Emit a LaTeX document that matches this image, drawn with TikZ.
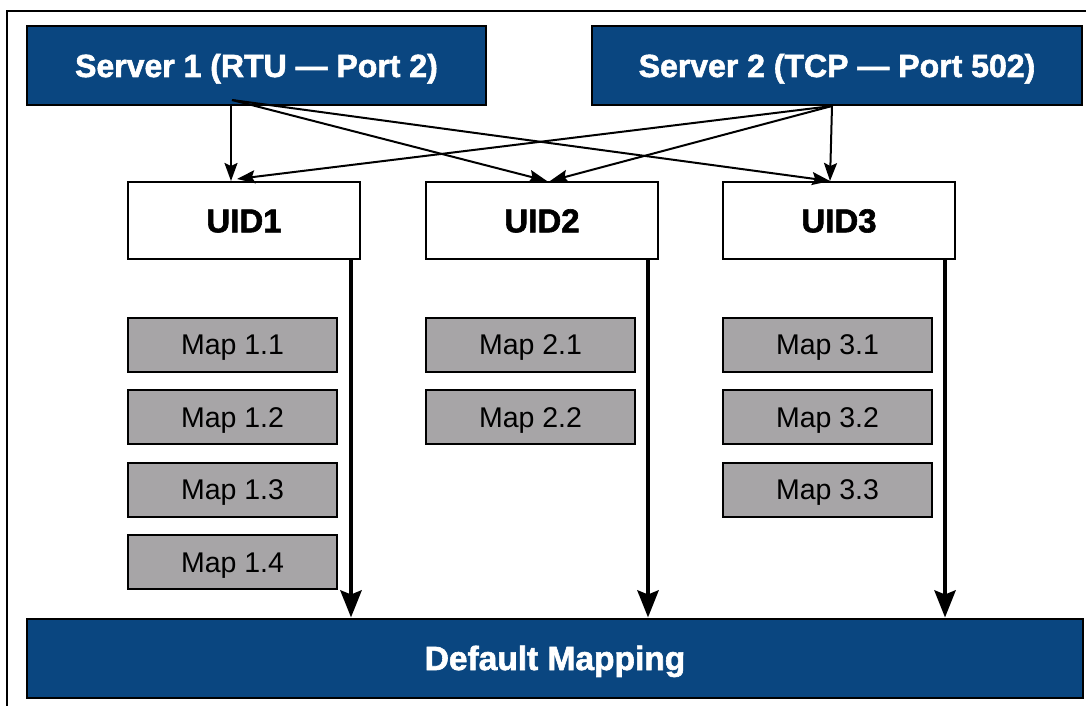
\documentclass[tikz,border=0pt]{standalone}
\usepackage{fontspec}
\setmainfont{Liberation Sans}
\newfontfamily\heavyfont{Liberation Sans}[BoldFeatures={FakeBold=1.8}]
\usetikzlibrary{arrows.meta}
\definecolor{navy}{HTML}{0A4680}
\definecolor{mapgray}{HTML}{A7A5A7}
\tikzset{
  server/.style={draw=black, line width=2pt, fill=navy, text=white, font=\heavyfont\bfseries\fontsize{32}{35}\selectfont, text height=23pt, text depth=0pt, minimum height=79pt, inner sep=0pt},
  uidbox/.style={draw=black, line width=2pt, fill=white, font=\heavyfont\bfseries\fontsize{33}{36}\selectfont, text height=23.6pt, text depth=0pt, minimum width=232pt, minimum height=77pt, inner sep=0pt},
  mapbox/.style={draw=black, line width=2pt, fill=mapgray, font=\fontsize{28.5}{31}\selectfont, text height=20.4pt, text depth=0pt, minimum width=209pt, minimum height=54pt, inner sep=0pt},
  link/.style={line width=2pt, -{Stealth[length=18pt,width=13pt,inset=3pt]}},
  feed/.style={line width=4.5pt, -{Stealth[length=27pt,width=21pt,inset=4pt]}},
}
\begin{document}
\begin{tikzpicture}[x=1pt,y=-1pt]
\useasboundingbox (0,0) rectangle (1086,706);
\clip (0,0) rectangle (1086,706);
\fill[white] (0,0) rectangle (1086,706);
% outer frame
\draw[line width=2.5pt] (7,11) rectangle (1110,730);

% servers
\node[server, minimum width=459pt] (s1) at (256.5,65.5) {Server 1 (RTU — Port 2)};
\node[server, minimum width=490pt] (s2) at (837,65.5) {Server 2 (TCP — Port 502)};

% unit identifiers
\node[uidbox] (u1) at (244,220.5) {UID1};
\node[uidbox] (u2) at (542,220.5) {UID2};
\node[uidbox] (u3) at (839,220.5) {UID3};

% register maps
\node[mapbox] (m11) at (232.5,344.5) {Map 1.1};
\node[mapbox] (m12) at (232.5,417) {Map 1.2};
\node[mapbox] (m13) at (232.5,489.5) {Map 1.3};
\node[mapbox] (m14) at (232.5,562) {Map 1.4};
\node[mapbox] (m21) at (530.5,344.5) {Map 2.1};
\node[mapbox] (m22) at (530.5,417) {Map 2.2};
\node[mapbox] (m31) at (827.5,344.5) {Map 3.1};
\node[mapbox] (m32) at (827.5,417) {Map 3.2};
\node[mapbox] (m33) at (827.5,489.5) {Map 3.3};

% default mapping
\node[server, minimum width=1056pt, font=\heavyfont\bfseries\fontsize{33.5}{36}\selectfont, text height=24pt] (dm) at (555,658) {Default Mapping};

% server to unit links
\draw[link] ([xshift=-25.5pt]s1.south) -- ([xshift=-13pt]u1.north);
\draw[link] ([xshift=-24.5pt,yshift=6pt]s1.south) -- ([xshift=5pt]u2.north);
\draw[link] ([xshift=-24.5pt,yshift=6pt]s1.south) -- ([xshift=-9pt]u3.north);
\draw[link] ([xshift=-5pt]s2.south) -- ([xshift=-7pt,yshift=2pt]u1.north);
\draw[link] ([xshift=-5pt]s2.south) -- ([xshift=8pt]u2.north);
\draw[link] ([xshift=-5pt]s2.south) -- ([xshift=-9pt]u3.north);

% fall-through to default mapping
\draw[feed] ([xshift=107pt]u1.south) coordinate (f1) -- (f1 |- dm.north);
\draw[feed] ([xshift=106pt]u2.south) coordinate (f2) -- (f2 |- dm.north);
\draw[feed] ([xshift=106pt]u3.south) coordinate (f3) -- (f3 |- dm.north);
\end{tikzpicture}
\end{document}
